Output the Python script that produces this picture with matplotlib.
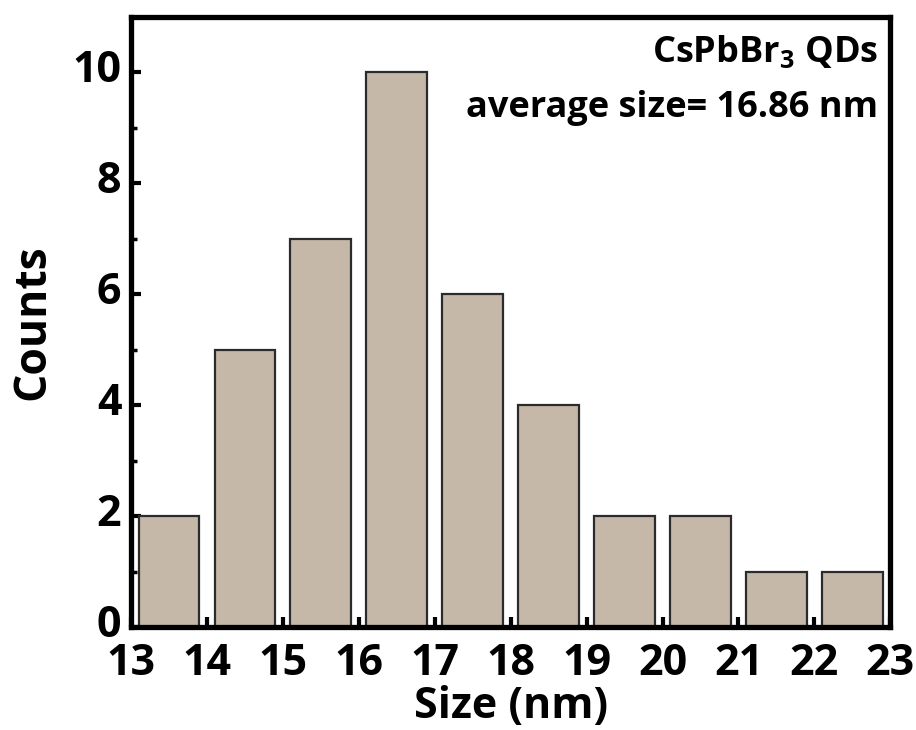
import matplotlib
matplotlib.use("Agg")
import matplotlib.pyplot as plt
import matplotlib.transforms as mtransforms
from matplotlib.ticker import MultipleLocator

# Size histogram of CsPbBr3 quantum dots
bin_centers = [13.5, 14.5, 15.5, 16.5, 17.5, 18.5, 19.5, 20.5, 21.5, 22.5]
counts = [2, 5, 7, 10, 6, 4, 2, 2, 1, 1]
x_ticks = [13, 14, 15, 16, 17, 18, 19, 20, 21, 22, 23]
y_ticks = [0, 2, 4, 6, 8, 10]

plt.rcParams["font.family"] = ["Open Sans", "DejaVu Sans"]
plt.rcParams["font.weight"] = "bold"
plt.rcParams["mathtext.default"] = "regular"

fig = plt.figure(figsize=(9.16, 7.30), dpi=100)
ax = fig.add_axes([0.143, 0.141, 0.829, 0.836])

ax.bar(bin_centers, counts, width=0.8, color="#c6b8a8",
       edgecolor="#2b2b2b", linewidth=1.6, zorder=2)

ax.set_xlim(13, 23)
ax.set_ylim(0, 11)
ax.set_xticks(x_ticks)
ax.set_yticks(y_ticks)
ax.xaxis.set_minor_locator(MultipleLocator(0.5))
ax.yaxis.set_minor_locator(MultipleLocator(1))

for s in ax.spines.values():
    s.set_linewidth(3.8)

ax.tick_params(axis="both", which="major", direction="in", length=7, width=3,
               labelsize=31, top=False, right=False)
ax.tick_params(axis="x", which="major", pad=11)
ax.tick_params(axis="y", which="major", pad=7)
ax.tick_params(axis="both", which="minor", direction="in", length=4, width=2.5,
               top=False, right=False)

# lift the y tick labels slightly above their ticks
lift = mtransforms.ScaledTranslation(0, 5 / 72, fig.dpi_scale_trans)
for lab in ax.get_yticklabels():
    lab.set_transform(lab.get_transform() + lift)
for lab in ax.get_xticklabels() + ax.get_yticklabels():
    lab.set_fontweight("bold")

ax.set_xlabel("Size (nm)", fontsize=31, fontweight="bold", labelpad=0)
ax.set_ylabel("Counts", fontsize=32, fontweight="bold", labelpad=12)

ax.text(0.984, 0.926, "CsPbBr$_3$ QDs", transform=ax.transAxes,
        ha="right", va="baseline", fontsize=26, fontweight="bold")
ax.text(0.984, 0.836, "average size= 16.86 nm", transform=ax.transAxes,
        ha="right", va="baseline", fontsize=26, fontweight="bold")

fig.savefig("out.png", dpi=100)
